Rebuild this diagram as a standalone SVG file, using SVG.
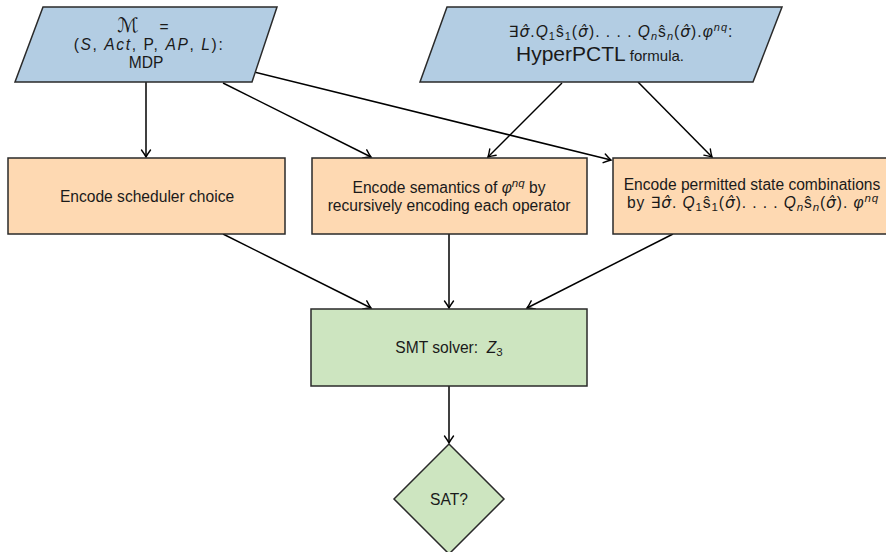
<svg xmlns="http://www.w3.org/2000/svg" width="886" height="552" viewBox="0 0 886 552">
<defs>
<style>
.io{fill:#b3cde3;stroke:#2a2a2a;stroke-width:1.5}
.proc{fill:#fed9b2;stroke:#2a2a2a;stroke-width:1.5}
.res{fill:#cde5c0;stroke:#2a2a2a;stroke-width:1.5}
.t{font-family:"Liberation Sans","DejaVu Sans",sans-serif;font-size:15.6px;fill:#1a1a1a;text-anchor:middle}
.i{font-style:italic}
.s{font-family:"DejaVu Sans",sans-serif;font-style:italic}
.c{stroke:#000;stroke-width:1.5;fill:none}
</style>
<marker id="ah" viewBox="-8 -6 10 12" refX="0" refY="0" markerWidth="10" markerHeight="12" markerUnits="userSpaceOnUse" orient="auto">
<path d="M-7,-4.5 Q-2.5,-1.2 0,0 Q-2.5,1.2 -7,4.5" fill="none" stroke="#000" stroke-width="1.4" stroke-linecap="round"/>
</marker>
</defs>
<rect width="886" height="552" fill="#fff"/>

<g id="connectors">
<line class="c" x1="146" y1="82" x2="146" y2="157" marker-end="url(#ah)"/>
<line class="c" x1="223" y1="83" x2="371" y2="157" marker-end="url(#ah)"/>
<line class="c" x1="254" y1="72" x2="611" y2="160" marker-end="url(#ah)"/>
<line class="c" x1="562" y1="83" x2="488" y2="157" marker-end="url(#ah)"/>
<line class="c" x1="638" y1="82" x2="712" y2="157" marker-end="url(#ah)"/>
<line class="c" x1="223" y1="234" x2="371" y2="308" marker-end="url(#ah)"/>
<line class="c" x1="449" y1="234" x2="449" y2="308" marker-end="url(#ah)"/>
<line class="c" x1="673" y1="234" x2="527" y2="308" marker-end="url(#ah)"/>
<line class="c" x1="449" y1="386" x2="449" y2="443" marker-end="url(#ah)"/>
</g>

<g id="mdp">
<polygon class="io" points="43,7 277,7 252,82 15,82"/>
<text class="t" x="128" y="32" style="font-size:20px"><tspan class="s">ℳ</tspan></text>
<text class="t" x="164" y="32">=</text>
<text class="t" x="149" y="50" letter-spacing="1.6">(<tspan class="i">S</tspan>, <tspan class="i">Act</tspan>, P, <tspan class="i">AP</tspan>, <tspan class="i">L</tspan>):</text>
<text class="t" x="146" y="68">MDP</text>
</g>

<g id="formula">
<polygon class="io" points="447,7 782,7 753,82 420,82"/>
<text class="t" x="621" y="37" letter-spacing="1">∃<tspan class="s">σ̂</tspan>.<tspan class="i">Q</tspan><tspan font-size="11" dy="3">1</tspan><tspan dy="-3">ŝ</tspan><tspan font-size="11" dy="3">1</tspan><tspan dy="-3">(</tspan><tspan class="s">σ̂</tspan><tspan>). . . . </tspan><tspan class="i">Q</tspan><tspan class="i" font-size="11" dy="3">n</tspan><tspan dy="-3">ŝ</tspan><tspan class="i" font-size="11" dy="3">n</tspan><tspan dy="-3">(</tspan><tspan class="s">σ̂</tspan><tspan>).</tspan><tspan class="i">φ</tspan><tspan class="i" font-size="11" dy="-6">nq</tspan><tspan dy="6">:</tspan></text>
<text class="t" x="600" y="61"><tspan font-size="21">HyperPCTL</tspan><tspan font-size="15"> formula.</tspan></text>
</g>

<g id="scheduler">
<rect class="proc" x="8" y="158" width="277" height="76"/>
<text class="t" x="147" y="202">Encode scheduler choice</text>
</g>

<g id="semantics">
<rect class="proc" x="312" y="158" width="275" height="76"/>
<text class="t" x="449" y="193">Encode semantics of <tspan class="i">φ</tspan><tspan class="i" font-size="11.5" dy="-6">nq</tspan><tspan dy="6"> by</tspan></text>
<text class="t" x="449" y="211">recursively encoding each operator</text>
</g>

<g id="permitted">
<rect class="proc" x="613" y="158" width="280" height="76"/>
<text class="t" x="752" y="190">Encode permitted state combinations</text>
<text class="t" x="753" y="208" letter-spacing="0.9">by ∃<tspan class="s">σ̂</tspan>.  <tspan class="i">Q</tspan><tspan font-size="11.5" dy="3">1</tspan><tspan dy="-3">ŝ</tspan><tspan font-size="11.5" dy="3">1</tspan><tspan dy="-3">(</tspan><tspan class="s">σ̂</tspan><tspan>). . . .  </tspan><tspan class="i">Q</tspan><tspan class="i" font-size="11.5" dy="3">n</tspan><tspan dy="-3">ŝ</tspan><tspan class="i" font-size="11.5" dy="3">n</tspan><tspan dy="-3">(</tspan><tspan class="s">σ̂</tspan><tspan>).  </tspan><tspan class="i">φ</tspan><tspan class="i" font-size="11.5" dy="-6">nq</tspan></text>
</g>

<g id="smt">
<rect class="res" x="311" y="309" width="276" height="77"/>
<text class="t" x="449" y="353" xml:space="preserve">SMT solver:  <tspan class="i">Z</tspan><tspan font-size="11.5" dy="3">3</tspan></text>
</g>

<g id="sat">
<polygon class="res" points="449,444 504,499 449,554 394,499"/>
<text class="t" x="449" y="505">SAT?</text>
</g>
</svg>
